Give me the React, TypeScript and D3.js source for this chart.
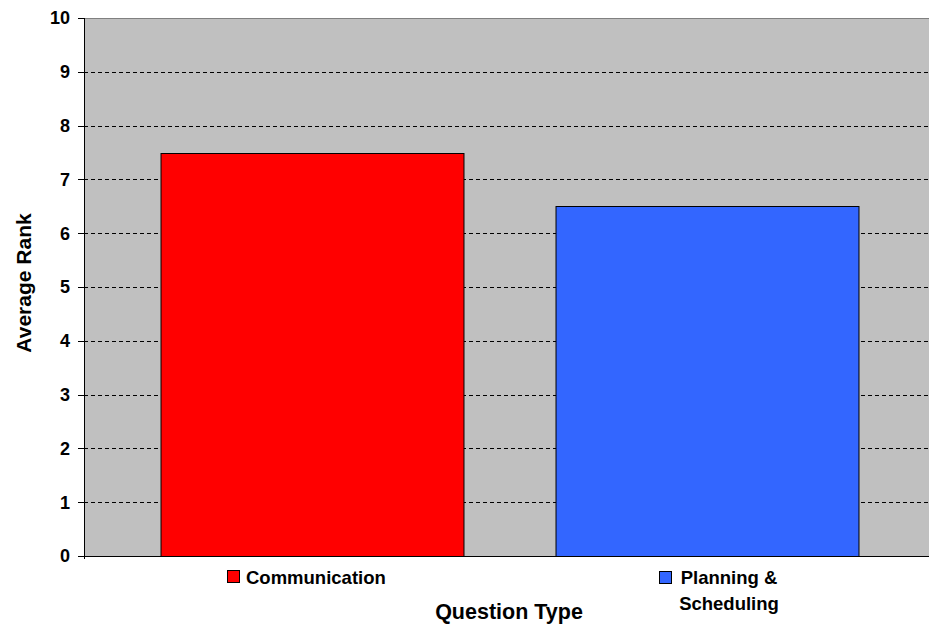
import React from "react";
import * as d3 from "d3";

const categories = ["Communication", "Planning & Scheduling"];
const values = [7.5, 6.5];
const colors = ["#FF0000", "#3366FF"];
const legendLines = [["Communication"], ["Planning &", "Scheduling"]];
const yTicks = [0, 1, 2, 3, 4, 5, 6, 7, 8, 9, 10];

const W = 929;
const H = 625;
const plot = { left: 84, right: 929, top: 18, bottom: 556 };
const font = "'Liberation Sans', Arial, Helvetica, sans-serif";

export default function App() {
  const y = d3.scaleLinear().domain([0, 10]).range([plot.bottom, plot.top]);
  const x = d3
    .scaleBand<string>()
    .domain(categories)
    .range([114.5, 904.5])
    .paddingInner(0.233)
    .paddingOuter(0.1165);

  return (
    <svg
      width={W}
      height={H}
      style={{ position: "absolute", left: 0, top: 0, background: "#fff" }}
      fontFamily={font}
    >
      <rect
        x={plot.left}
        y={plot.top}
        width={plot.right - plot.left}
        height={plot.bottom - plot.top}
        fill="#C0C0C0"
      />
      <line x1={plot.left} x2={plot.right} y1={plot.top + 0.5} y2={plot.top + 0.5} stroke="#808080" />
      {yTicks.filter((t) => t > 0 && t < 10).map((t) => (
        <line
          key={"g" + t}
          x1={plot.left}
          x2={plot.right}
          y1={Math.round(y(t)) + 0.5}
          y2={Math.round(y(t)) + 0.5}
          stroke="#000"
          strokeDasharray="4,3"
        />
      ))}
      {categories.map((c, i) => (
        <rect
          key={c}
          x={x(c)! + 0.5}
          y={Math.round(y(values[i])) + 0.5}
          width={x.bandwidth()}
          height={Math.round(y(0)) - Math.round(y(values[i]))}
          fill={colors[i]}
          stroke="#000"
          strokeWidth={1}
        />
      ))}
      <line x1={plot.left + 0.5} x2={plot.left + 0.5} y1={plot.top} y2={plot.bottom + 3} stroke="#000" />
      <line x1={plot.left} x2={plot.right} y1={plot.bottom + 0.5} y2={plot.bottom + 0.5} stroke="#000" />
      {yTicks.map((t) => (
        <g key={"t" + t}>
          <line
            x1={plot.left - 6}
            x2={plot.left}
            y1={Math.round(y(t)) + 0.5}
            y2={Math.round(y(t)) + 0.5}
            stroke="#000"
          />
          <text
            x={70}
            y={y(t)}
            dy="0.36em"
            textAnchor="end"
            fontSize={18}
            fontWeight="bold"
            fill="#000"
          >
            {t}
          </text>
        </g>
      ))}
      <text
        transform={`translate(31,${(213 + 353) / 2}) rotate(-90)`}
        textAnchor="middle"
        fontSize={21}
        fontWeight="bold"
        fill="#000"
      >
        Average Rank
      </text>
      <text x={509} y={619} textAnchor="middle" fontSize={21.5} fontWeight="bold" fill="#000">
        Question Type
      </text>
      {/* legend */}
      <g>
        <rect x={227.5} y={570.5} width={12} height={12} fill={colors[0]} stroke="#000" />
        <text x={246} y={584} fontSize={18.5} fontWeight="bold" fill="#000">
          {legendLines[0][0]}
        </text>
        <rect x={659.5} y={571.5} width={12} height={12} fill={colors[1]} stroke="#000" />
        {legendLines[1].map((line, j) => (
          <text
            key={line}
            x={729}
            y={584 + j * 26}
            textAnchor="middle"
            fontSize={18.5}
            fontWeight="bold"
            fill="#000"
          >
            {line}
          </text>
        ))}
      </g>
    </svg>
  );
}
